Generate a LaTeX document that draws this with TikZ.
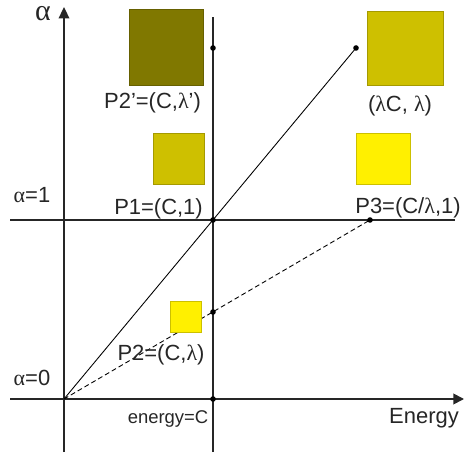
\documentclass[tikz,border=0pt]{standalone}
\usepackage{fontspec}
\setmainfont{Liberation Sans}
\newfontfamily\grk{Liberation Serif}
\usetikzlibrary{arrows.meta}
\definecolor{olivedark}{RGB}{128,120,0}
\definecolor{olivemid}{RGB}{206,192,0}
\definecolor{yellowlight}{RGB}{255,240,0}
\newcommand{\al}{{\grk α}}
\newcommand{\lam}{{\grk λ}}
\begin{document}
\begin{tikzpicture}[x=0.02cm,y=0.02cm,
        axis/.style={line width=1pt,draw=black!85},
        guide/.style={line width=0.6pt,draw=black!85},
        sq/.style={line width=0.5pt,inner sep=0pt},
        lbl/.style={inner sep=0pt,font=\fontsize{12.5}{14}\selectfont,text=black!85}]
    \useasboundingbox (-64,-53) rectangle (401,399);
    % points
    \coordinate (O) at (0,0);
    \coordinate (P1) at (149,179);
    \coordinate (P2) at (149,87);
    \coordinate (P3) at (306,179);
    \coordinate (Q) at (292,351);
    \coordinate (Ptop) at (149,351);
    \coordinate (E) at (149,0);
    \coordinate (ybot) at (0,-53);
    \coordinate (ytop) at (0,392);
    \coordinate (xleft) at (-54,0);
    \coordinate (xright) at (400,0);
    \coordinate (hleft) at (-54,179);
    \coordinate (hright) at (391,179);
    \coordinate (vbot) at (149,-53);
    \coordinate (vtop) at (149,382);
    % axes and guides
    \draw[axis,-{Triangle[length=6.5pt,width=6pt]}] (ybot) -- (ytop);
    \draw[axis,-{Triangle[length=6pt,width=6pt]}] (xleft) -- (xright);
    \draw[guide] (hleft) -- (hright);
    \draw[guide] (vbot) -- (vtop);
    \draw[line width=0.5pt] (O) -- (Q);
    \draw[line width=0.5pt,dash pattern=on 2.8pt off 1.7pt] (O) -- (P3);
    \foreach \p in {P1,P2,P3,Q,Ptop,E}
    {
        \fill (\p) circle (2.8);
    }
    % squares
    \node[sq,fill=olivedark,draw=olivedark!80!black,minimum width=74*0.02cm,minimum height=76*0.02cm] (s2p) at (102,352) {};
    \node[sq,fill=olivemid,draw=olivemid!80!black,minimum width=51*0.02cm,minimum height=51*0.02cm] (s1) at (114.5,240.5) {};
    \node[sq,fill=olivemid,draw=olivemid!80!black,minimum width=76*0.02cm,minimum height=74*0.02cm] (sq) at (341,351) {};
    \node[sq,fill=yellowlight,draw=yellowlight!80!black,minimum width=54*0.02cm,minimum height=51*0.02cm] (s3) at (319,240.5) {};
    \node[sq,fill=yellowlight,draw=yellowlight!80!black,minimum width=31*0.02cm,minimum height=31*0.02cm] (s2) at (122,82.5) {};
    % labels
    \node[inner sep=0pt,font=\fontsize{17}{18}\selectfont,text=black!85] (alpha) at (-21,385) {\al};
    \node[lbl] (a1) at (-32,204) {\al=1};
    \node[lbl] (a0) at (-32,21) {\al=0};
    \node[lbl] (l2p) at (88.5,296) {P2’=(C,\lam’)};
    \node[lbl] (l1) at (94.5,190) {P1=(C,1)};
    \node[lbl] (lq) at (336,293) {(\lam C, \lam)};
    \node[lbl] (l3) at (344,191) {P3=(C/\lam,1)};
    \node[lbl] (l2) at (97,44) {P2=(C,\lam)};
    \node[lbl,font=\fontsize{10.5}{12}\selectfont] (lc) at (104,-20) {energy=C};
    \node[lbl] (lx) at (360,-19) {Energy};
\end{tikzpicture}
\end{document}
